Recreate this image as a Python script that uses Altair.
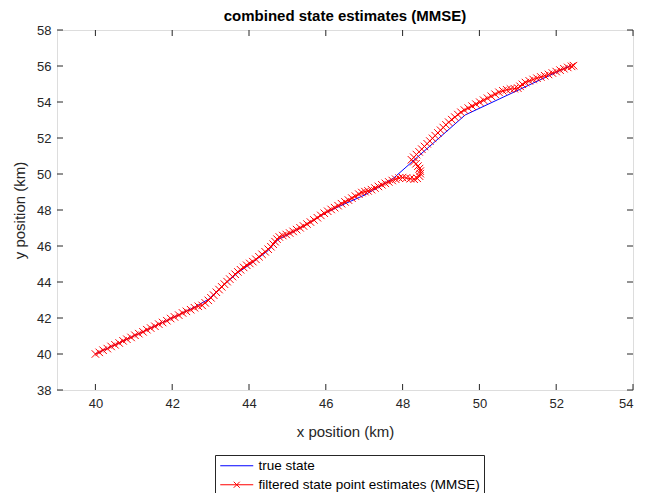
import altair as alt
import pandas as pd

# ---- data ----
true_x = [40.0, 41.0, 42.0, 42.6, 42.95, 43.3, 43.7, 44.1, 44.5, 44.75, 45.0, 45.5,
          46.0, 46.5, 47.0, 47.42, 47.76, 49.63, 52.38]
true_y = [40.0, 41.0, 42.0, 42.62, 43.05, 43.75, 44.5, 45.1, 45.75, 46.35, 46.62, 47.2,
          47.85, 48.35, 48.82, 49.33, 49.76, 53.28, 56.03]

est_x = [40.00, 40.10, 40.20, 40.31, 40.41, 40.51, 40.62, 40.72, 40.82, 40.93, 41.03, 41.13,
         41.24, 41.34, 41.44, 41.55, 41.65, 41.75, 41.86, 41.96, 42.06, 42.17, 42.27, 42.37,
         42.48, 42.58, 42.68,
         42.78, 42.86, 42.94, 43.01, 43.08, 43.15, 43.22, 43.29, 43.36, 43.43, 43.50, 43.57,
         43.64, 43.71, 43.78, 43.86, 43.94, 44.02, 44.10, 44.18, 44.26, 44.34, 44.42, 44.50,
         44.57, 44.63, 44.68, 44.73, 44.79, 44.88, 44.97,
         45.06, 45.15, 45.24, 45.33, 45.42, 45.51, 45.60, 45.69, 45.78, 45.87, 45.96, 46.05,
         46.14, 46.23, 46.32, 46.41, 46.50, 46.59, 46.68, 46.77, 46.86, 46.94, 47.02, 47.10,
         47.19, 47.28, 47.37, 47.46, 47.55, 47.64, 47.73, 47.82, 47.91,
         48.00, 48.10, 48.20, 48.30, 48.38, 48.44, 48.46, 48.46, 48.44, 48.40, 48.35, 48.29,
         48.23,
         48.29, 48.36, 48.43, 48.50, 48.57, 48.64, 48.71, 48.78, 48.85, 48.92, 48.99, 49.06,
         49.13, 49.20, 49.28, 49.36, 49.44, 49.52, 49.61, 49.71, 49.81, 49.91, 50.01, 50.11,
         50.21, 50.31, 50.41, 50.51, 50.61, 50.71, 50.81, 50.91, 51.00, 51.06, 51.12, 51.20,
         51.30, 51.40, 51.50, 51.60, 51.70, 51.80, 51.90, 52.00, 52.10, 52.20, 52.30, 52.40,
         52.45]
est_y = [40.00, 40.09, 40.21, 40.30, 40.42, 40.51, 40.61, 40.73, 40.82, 40.92, 41.04, 41.13,
         41.23, 41.35, 41.44, 41.54, 41.66, 41.75, 41.85, 41.97, 42.06, 42.16, 42.28, 42.37,
         42.46, 42.57, 42.65,
         42.70, 42.84, 42.98, 43.12, 43.27, 43.43, 43.58, 43.73, 43.88, 44.02, 44.16, 44.30,
         44.43, 44.56, 44.68, 44.81, 44.93, 45.03, 45.13, 45.26, 45.40, 45.54, 45.68, 45.82,
         45.96, 46.10, 46.24, 46.38, 46.50, 46.58, 46.64,
         46.72, 46.81, 46.91, 47.01, 47.11, 47.22, 47.33, 47.45, 47.57, 47.70, 47.82, 47.93,
         48.03, 48.13, 48.24, 48.35, 48.45, 48.55, 48.66, 48.77, 48.88, 48.97, 49.02, 49.06,
         49.13, 49.22, 49.31, 49.40, 49.48, 49.56, 49.64, 49.71, 49.77,
         49.80, 49.78, 49.74, 49.71, 49.76, 49.88, 50.02, 50.16, 50.30, 50.44, 50.57, 50.68,
         50.79,
         50.93, 51.08, 51.23, 51.38, 51.53, 51.68, 51.83, 51.98, 52.13, 52.28, 52.43, 52.58,
         52.73, 52.88, 53.02, 53.16, 53.30, 53.43, 53.55, 53.66, 53.77, 53.88, 53.99, 54.10,
         54.21, 54.32, 54.43, 54.54, 54.62, 54.68, 54.72, 54.74, 54.77, 54.87, 54.98, 55.08,
         55.17, 55.25, 55.32, 55.39, 55.46, 55.53, 55.61, 55.69, 55.77, 55.85, 55.92, 55.98,
         56.02]

x_ticks = [40, 42, 44, 46, 48, 50, 52, 54]
y_ticks = [38, 40, 42, 44, 46, 48, 50, 52, 54, 56, 58]
series_names = ["true state", "filtered state point estimates (MMSE)"]
series_colors = ["#0000FF", "#FF0000"]

# ---- styling ----
W, H = 576, 360
FONT = "Liberation Sans"
AX = "#262626"
XMARK = "M-1,-1L1,1M-1,1L1,-1"
legend_paths = ["M-1,0H5", "M-1,0H5M1.45,-0.55L2.55,0.55M1.45,0.55L2.55,-0.55"]

true_df = pd.DataFrame({"x": true_x, "y": true_y, "o": list(range(len(true_x)))})
est_df = pd.DataFrame({"x": est_x, "y": est_y, "o": list(range(len(est_x)))})
xt_df = pd.DataFrame({"t": x_ticks})
yt_df = pd.DataFrame({"t": y_ticks})
leg_df = pd.DataFrame({"series": series_names})

xs = alt.Scale(domain=[39, 54], nice=False, zero=False)
ys = alt.Scale(domain=[38, 58], nice=False, zero=False)
xaxis = alt.Axis(values=x_ticks, ticks=False, tickSize=0, domain=False, grid=False,
                 labelFont=FONT, labelFontSize=13, labelColor=AX, labelPadding=7,
                 title="x position (km)", titleFont=FONT, titleFontSize=15,
                 titleFontWeight="normal", titleColor=AX, titlePadding=14)
yaxis = alt.Axis(values=y_ticks, ticks=False, tickSize=0, domain=False, grid=False,
                 labelFont=FONT, labelFontSize=13, labelColor=AX, labelPadding=6,
                 title="y position (km)", titleFont=FONT, titleFontSize=15,
                 titleFontWeight="normal", titleColor=AX, titlePadding=9)


def X(f):
    return alt.X(f, type="quantitative", scale=xs, axis=xaxis)


def Y(f):
    return alt.Y(f, type="quantitative", scale=ys, axis=yaxis)


leg = alt.Legend(orient="none", legendX=158, legendY=425, title=None,
                 symbolSize=121, symbolStrokeWidth=1, symbolOpacity=1,
                 labelFont=FONT, labelFontSize=13.5, labelColor="black", labelLimit=400,
                 labelOffset=26, padding=4, rowPadding=4,
                 strokeColor=AX, fillColor="white")

blue = alt.Chart(true_df).mark_line(color="#0000FF", strokeWidth=1).encode(
    x=X("x"), y=Y("y"), order="o:Q")
red = alt.Chart(est_df).mark_line(color="#FF0000", strokeWidth=1).encode(
    x=X("x"), y=Y("y"), order="o:Q")
marks = alt.Chart(est_df).mark_point(shape=XMARK, size=56, filled=False, color="#FF0000",
                                     strokeWidth=1, opacity=1).encode(x=X("x"), y=Y("y"))
legend_layer = alt.Chart(leg_df).transform_filter(alt.datum.series == "__none__").mark_point(
    filled=False, strokeWidth=1, opacity=1).encode(
    color=alt.Color("series:N", scale=alt.Scale(domain=series_names, range=series_colors), legend=leg),
    shape=alt.Shape("series:N", scale=alt.Scale(domain=series_names, range=legend_paths), legend=leg),
)

tb = alt.Chart(xt_df).mark_rule(color=AX, strokeWidth=1).encode(
    x=X("t"), y=alt.value(H), y2=alt.value(H - 6))
tt = alt.Chart(xt_df).mark_rule(color=AX, strokeWidth=1).encode(
    x=X("t"), y=alt.value(0), y2=alt.value(6))
tl = alt.Chart(yt_df).mark_rule(color=AX, strokeWidth=1).encode(
    y=Y("t"), x=alt.value(0), x2=alt.value(6))
tr = alt.Chart(yt_df).mark_rule(color=AX, strokeWidth=1).encode(
    y=Y("t"), x=alt.value(W), x2=alt.value(W - 6))

chart = alt.layer(blue, red, marks, legend_layer, tb, tt, tl, tr).properties(
    width=W, height=H,
    title=alt.TitleParams("combined state estimates (MMSE)", font=FONT, fontSize=15,
                          fontWeight="bold", color="black", anchor="middle", offset=0),
    autosize=alt.AutoSizeParams(type="none"),
    padding={"left": 49, "top": 22, "right": 7, "bottom": 103},
).configure_view(stroke=AX, strokeWidth=1).configure(background="white")

chart.save("out.html", embed_options={"renderer": "svg", "actions": False})
